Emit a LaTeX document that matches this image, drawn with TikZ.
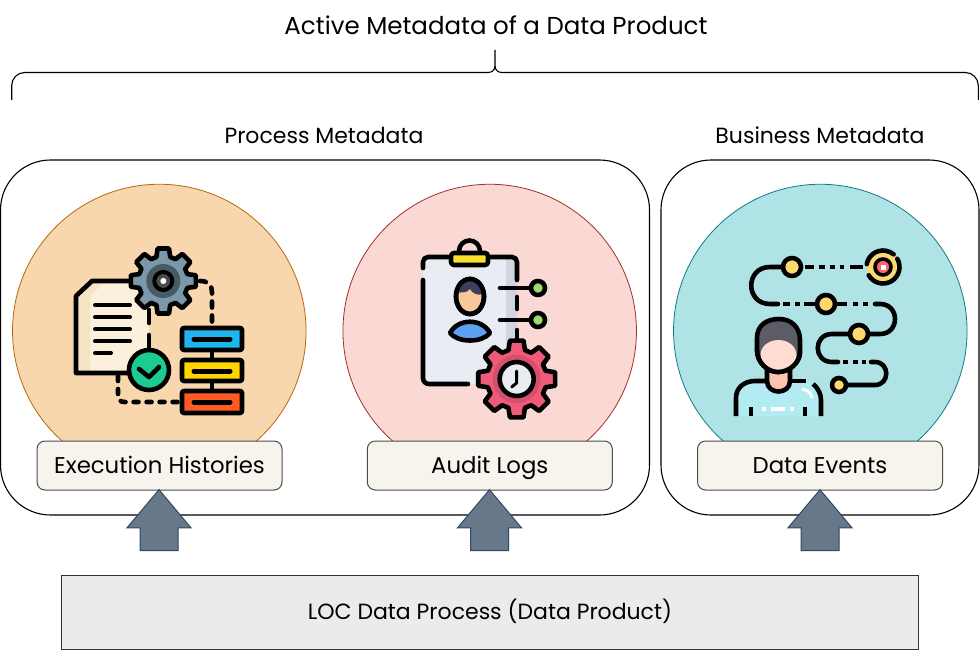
\documentclass[tikz,border=0pt]{standalone}
\usepackage{fontspec}
\setmainfont{Poppins}
\usepackage{xcolor}
\usetikzlibrary{arrows.meta, positioning, shapes.arrows}
\definecolor{myorange}{RGB}{249, 215, 174}
\definecolor{myorangeline}{RGB}{180, 105, 14}
\definecolor{mypink}{RGB}{250, 216, 211}
\definecolor{mypinkline}{RGB}{163, 48, 42}
\definecolor{myteal}{RGB}{176, 227, 230}
\definecolor{mytealline}{RGB}{14, 124, 134}
\definecolor{mycream}{RGB}{246, 244, 236}
\definecolor{myslate}{RGB}{102, 120, 138}
\definecolor{myslateline}{RGB}{47, 74, 99}
\definecolor{mypaper}{RGB}{251, 240, 220}
\definecolor{mypaperdark}{RGB}{246, 227, 196}
\definecolor{mysteel}{RGB}{122, 152, 169}
\definecolor{mydarksteel}{RGB}{72, 90, 98}
\definecolor{myyellow}{RGB}{252, 216, 111}
\definecolor{mycheck}{RGB}{28, 203, 143}
\definecolor{mybarblue}{RGB}{31, 182, 240}
\definecolor{mybaryellow}{RGB}{255, 212, 0}
\definecolor{mybarred}{RGB}{255, 90, 35}
\definecolor{myboard}{RGB}{233, 237, 243}
\definecolor{myboarddark}{RGB}{207, 214, 224}
\definecolor{myclip}{RGB}{247, 225, 46}
\definecolor{myskin}{RGB}{249, 200, 154}
\definecolor{myhair}{RGB}{61, 61, 92}
\definecolor{myshirt}{RGB}{93, 159, 240}
\definecolor{mylime}{RGB}{165, 216, 111}
\definecolor{mygear}{RGB}{238, 90, 120}
\definecolor{mygeardark}{RGB}{214, 79, 110}
\definecolor{mytarget}{RGB}{250, 100, 115}
\definecolor{mygrey}{RGB}{92, 92, 102}
\definecolor{myface}{RGB}{255, 220, 210}
\definecolor{myneck}{RGB}{253, 195, 174}
\definecolor{mytop}{RGB}{178, 235, 242}
\tikzset{
    panelbox/.style={draw=black, line width=1.1pt, rounded corners=50pt, minimum width=#1, minimum height=355pt, inner sep=0pt},
    bigcircle/.style={circle, line width=0.8pt, minimum size=293.5pt, inner sep=0pt},
    labelbox/.style={draw=black!70, line width=1pt, fill=mycream, rounded corners=8pt, minimum width=245pt, minimum height=49pt, inner sep=0pt, text height=20pt, text depth=5pt, font=\fontsize{22.8}{27}\selectfont},
    headtext/.style={font=\fontsize{22}{26}\selectfont, inner sep=0pt, text height=16pt, text depth=5pt},
    uparrow/.style={single arrow, shape border rotate=90, draw=myslateline, line width=1pt, fill=myslate, minimum height=61pt, single arrow head extend=13pt, single arrow tip angle=80, inner xsep=18.5pt, inner ysep=0pt},
    iconline/.style={draw=black, line width=4.6pt, line cap=round, line join=round},
    bartext/.style={iconline, line width=4pt},
    routedash/.style={iconline, line cap=butt}
}
% gear with eight teeth: root radius, tip radius
\newcommand{\gearteeth}[2]{({-16}:#1) \foreach \a in {0,45,...,315} { -- ({\a-16}:#1) -- ({\a-10}:#2) -- ({\a+10}:#2) -- ({\a+16}:#1) } -- cycle}
\begin{document}
\begin{tikzpicture}[x=1pt, y=-1pt]
    \useasboundingbox (0,0) rectangle (980,650);
    % titel en haak
    \node[font=\fontsize{24.5}{29}\selectfont, inner sep=0pt, text height=18pt, text depth=5pt] (title) at (496,28.5) {Active Metadata of a Data Product};
    \coordinate (bracetop) at (495,50);
    \draw[line width=1.1pt, rounded corners=13pt] (11.7,100) -- (11.7,72.5) -- (488,72.5);
    \draw[line width=1.1pt, rounded corners=13pt] (978.3,100) -- (978.3,72.5) -- (502,72.5);
    \draw[line width=1.1pt] (bracetop) -- (495,66) .. controls (495,70) and (492,72.5) .. (488,72.5);
    \draw[line width=1.1pt] (495,66) .. controls (495,70) and (498,72.5) .. (502,72.5);

    \node[headtext] (prochead) at (324,138.5) {Process Metadata};
    \node[headtext] (bizhead) at (820,138.5) {Business Metadata};

    % panelen
    \node[panelbox=649pt] (procbox) at (325,337.5) {};
    \node[panelbox=318pt] (bizbox) at (820,337.5) {};

    % cirkels
    \node[bigcircle, fill=myorange, draw=myorangeline] (circexec) at (159.3,331) {};
    \node[bigcircle, fill=mypink, draw=mypinkline] (circaudit) at (489.7,331) {};
    \node[bigcircle, fill=myteal, draw=mytealline] (circevent) at (820.3,331) {};

    % icoon: document, tandwiel, balken
    \fill[mypaper] (76,296) -- (92,281) -- (149,281) -- (149,373) -- (76,373) -- cycle;
    \fill[mypaperdark] (76,296) -- (92,281) -- (101,285) -- (90,296) -- (90,373) -- (76,373) -- cycle;
    \draw[iconline] (130,281) -- (92,281) -- (76,296) -- (76,373) -- (128,373);
    \foreach \y in {305,317,329,341} \draw[bartext] (95,\y) -- (130,\y);
    \draw[bartext] (95,353) -- (111,353);
    \draw[iconline] (149,310) -- (149,323);
    \draw[iconline] (149,335) -- (149,348);
    \draw[iconline, dash pattern=on 6pt off 8pt] (200,281) .. controls (208,281) and (212,285) .. (212,292) -- (212,326);
    \draw[iconline, dash pattern=on 5pt off 8pt] (118,376) -- (118,395) .. controls (118,400) and (120,402) .. (125,402) -- (180,402);
    \draw[iconline] (212,352) -- (212,358);
    \draw[iconline] (212,383) -- (212,389);
    \begin{scope}[shift={(163.3,281)}]
        \draw[iconline, fill=mysteel] \gearteeth{25}{33};
        \fill[mydarksteel] (0,0) circle (17);
        \draw[line width=4pt, fill=black!70] (0,0) circle (9);
        \fill[white] (0,0) circle (3);
    \end{scope}
    \draw[iconline, fill=mycheck] (149,370) circle (20);
    \draw[iconline, line width=4.6pt] (139,369) -- (149,377) -- (159,367);
    \draw[iconline, fill=mybarblue, rounded corners=2pt] (182,328) rectangle (242,350);
    \draw[iconline, fill=mybaryellow, rounded corners=2pt] (182,360) rectangle (242,381);
    \draw[iconline, fill=mybarred, rounded corners=2pt] (182,391) rectangle (242,413);
    \foreach \y in {339,371,402} \draw[bartext, line width=5pt] (194,\y) -- (230,\y);

    % icoon: klembord, persoon, tandwiel
    \fill[myboard] (423,257) rectangle (517,384);
    \fill[myboarddark] (506,257) rectangle (517,384);
    \draw[iconline, rounded corners=5pt] (423,268) -- (423,257) -- (448,257);
    \draw[iconline, rounded corners=5pt] (491,257) -- (517,257) -- (517,280);
    \draw[iconline] (517,297) -- (517,309);
    \draw[iconline] (517,330) -- (517,338);
    \draw[iconline, rounded corners=6pt] (423,280) -- (423,384) -- (468,384);
    \draw[iconline] (459,251) arc[start angle=180, end angle=360, radius=10.5];
    \draw[iconline, fill=myclip, rounded corners=3pt] (451,253) rectangle (488,265);
    \draw[iconline, fill=myskin] (470,296.5) ellipse (14 and 17.5);
    \fill[myhair] (457,292) .. controls (457,285) and (463,281) .. (470,281) .. controls (478,281) and (483,287) .. (483,294) .. controls (477,296) and (472,293) .. (470,289) .. controls (467,293) and (461,293) .. (457,292) -- cycle;
    \draw[iconline] (470,296.5) ellipse (14 and 17.5);
    \draw[iconline, fill=myshirt] (450,333) .. controls (458,318) and (482,318) .. (490,333) .. controls (482,343) and (458,343) .. (450,333) -- cycle;
    \draw[iconline] (500,288) -- (530,288);
    \draw[iconline] (500,320) -- (530,320);
    \draw[iconline, fill=mylime] (538,288) circle (7);
    \draw[iconline, fill=mylime] (538,320) circle (7);
    \begin{scope}[shift={(516.7,379)}]
        \draw[iconline, fill=mygear] \gearteeth{30}{39};
        \fill[mygeardark] (0,0) circle (24);
        \draw[iconline, fill=myboard] (0,0) circle (17);
        \draw[iconline, line width=3pt] (0,-8) -- (0,4) -- (-5,8);
    \end{scope}

    % icoon: route en persoon
    \draw[iconline] (782,267) -- (770,267) .. controls (745,267) and (745,304) .. (770,304) -- (778,304);
    \foreach \a/\b in {805/814, 819/825, 830/835, 840/844, 850/863} \draw[routedash] (\a,267) -- (\b,267);
    \foreach \a/\b in {783/790, 795/800, 804/815, 837/847, 853/858, 863/868} \draw[routedash] (\a,304) -- (\b,304);
    \draw[iconline] (875,304) -- (880,304) .. controls (900,304) and (900,334) .. (880,334) -- (870,334);
    \draw[iconline] (848,334) -- (832,334) .. controls (813,334) and (813,362) .. (832,362) -- (838,362);
    \foreach \a/\b in {843/848, 853/858, 862/866} \draw[routedash] (\a,362) -- (\b,362);
    \draw[iconline] (871,362) -- (875,362) .. controls (890,362) and (890,385) .. (875,385) -- (848,385);
    \foreach \x/\y/\r in {792/267/9, 826/304/9, 859/334/9, 839/385/7} \draw[iconline, fill=myyellow] (\x,\y) circle (\r);
    \draw[line width=9pt, myyellow] (883,267) circle (11.5);
    \draw[iconline] (883,267) ++(190:16.5) arc[start angle=190, end angle=310, radius=16.5];
    \draw[iconline] (883,267) ++(330:16.5) arc[start angle=330, end angle=510, radius=16.5];
    \draw[line width=3.6pt, fill=mytarget] (883,267) circle (8);
    \fill[white] (880.5,264.5) rectangle (885.5,269.5);
    % persoon
    \fill[mytop] (736,416) -- (736,398) .. controls (736,388) and (744,381) .. (755,381) -- (805,381) .. controls (815,381) and (821,390) .. (821,400) -- (821,416) -- cycle;
    \draw[iconline, line cap=butt] (736,416) -- (736,398) .. controls (736,388) and (744,381) .. (755,381) -- (768,381);
    \draw[iconline, line cap=butt] (790,381) -- (806,381);
    \draw[iconline, line cap=butt] (813,384) .. controls (818,388) and (821,394) .. (821,400) -- (821,416);
    \draw[iconline, line cap=butt] (751,407) -- (751,416);
    \draw[iconline, line cap=butt] (805,407) -- (805,416);
    \draw[white, line width=3pt] (802,389) .. controls (808,390) and (811,393) .. (812,398);
    \draw[iconline, fill=myneck] (767,368) -- (767,381) .. controls (767,395) and (790,395) .. (790,381) -- (790,368) -- cycle;
    \draw[iconline, fill=mygrey] (757,350) -- (757,338) .. controls (757,325) and (767,319) .. (779,319) .. controls (791,319) and (800,327) .. (800,340) -- (800,352) .. controls (800,362) and (790,372) .. (778,372) .. controls (767,372) and (757,362) .. (757,350) -- cycle;
    \fill[myface] (778.5,355) ellipse (18 and 15);
    \draw[iconline, line cap=butt] (757,350) .. controls (757,362) and (767,372) .. (778,372) .. controls (790,372) and (800,362) .. (800,352);
    \fill[white] (761.5,407) rectangle (766,411);
    \fill[white] (771,407) rectangle (785,411);
    \fill[white] (790,407) rectangle (794,411);

    % labels
    \node[labelbox] (exec) at (159.5,465.5) {Execution Histories};
    \node[labelbox] (audit) at (489.8,465.5) {Audit Logs};
    \node[labelbox] (events) at (820,465.5) {Data Events};

    % bron en pijlen
    \node[draw=black!80, line width=1.3pt, fill=black!8, minimum width=856.5pt, minimum height=74pt, inner sep=0pt, text height=18pt, text depth=5pt, font=\fontsize{22}{26}\selectfont] (source) at (490,612.5) {LOC Data Process (Data Product)};
    \foreach \x/\n in {159/arrexec, 489.5/arraudit, 820/arrevents}
        \node[uparrow] (\n) at (\x,531.5) {};
\end{tikzpicture}
\end{document}
